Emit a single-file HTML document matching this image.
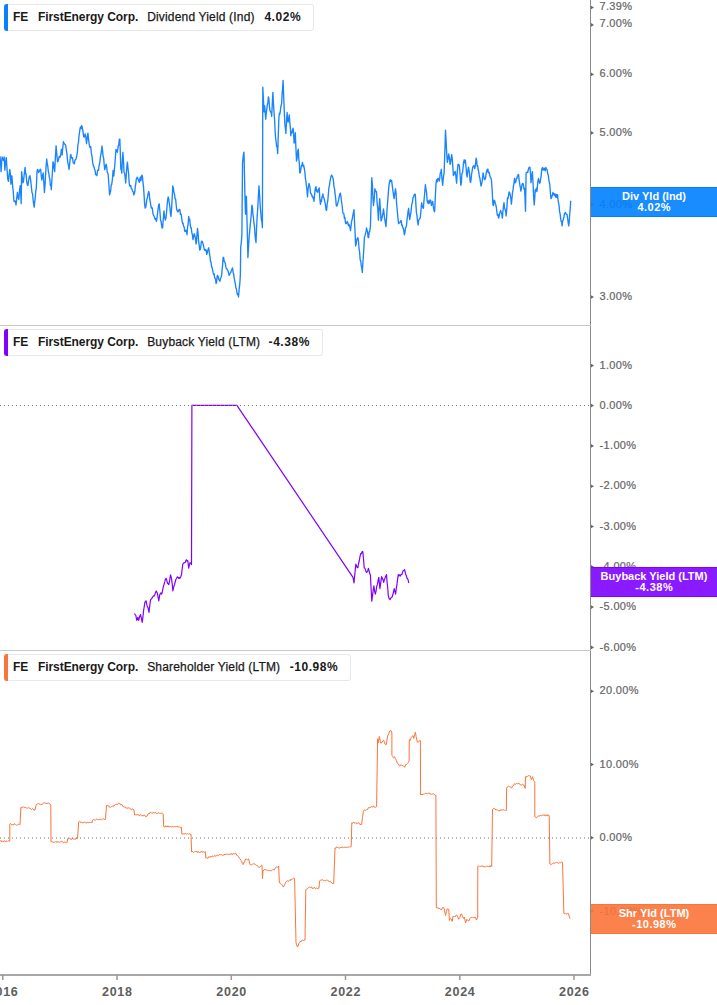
<!DOCTYPE html><html><head><meta charset="utf-8"><style>
html,body{margin:0;padding:0;background:#fff;}
body{width:717px;height:1005px;position:relative;overflow:hidden;font-family:"Liberation Sans",sans-serif;}
.t{position:absolute;white-space:nowrap;line-height:1;}
.yl{position:absolute;left:599.5px;font-size:11px;color:#666;white-space:nowrap;line-height:11px;letter-spacing:0.35px;-webkit-text-stroke:0.2px #666;}
.xl{position:absolute;top:986px;font-size:12.5px;font-weight:bold;color:#5e5e5e;white-space:nowrap;line-height:12px;width:60px;text-align:center;letter-spacing:0.7px;text-indent:0.7px;}
.leg{position:absolute;left:4px;height:25px;border:1px solid #e8e8e8;border-left:none;border-radius:0 3px 3px 0;background:#fff;}
.bar{position:absolute;left:4px;width:4px;border-radius:3px 0 0 3px;}
.lt{position:absolute;font-size:12px;color:#1a1a1a;white-space:nowrap;line-height:12px;letter-spacing:0.17px;-webkit-text-stroke:0.25px #1a1a1a;}
.lt.b{letter-spacing:-0.07px;-webkit-text-stroke:0;}
.lt.v{letter-spacing:0.55px;-webkit-text-stroke:0;}
.b{font-weight:bold;}
.l2{letter-spacing:0.5px;margin-right:-0.5px;}
.badge{position:absolute;left:591px;width:126px;height:28px;color:#fff;font-weight:bold;font-size:11px;line-height:10.5px;text-align:center;box-sizing:border-box;padding-top:3px;}

</style></head><body>
<svg width="717" height="1005" viewBox="0 0 717 1005" style="position:absolute;left:0;top:0"><rect x="590" y="0" width="1" height="976" fill="#8a8a8a"/><rect x="0" y="325" width="591" height="1" fill="#c8c8c8"/><rect x="0" y="650" width="591" height="1" fill="#c8c8c8"/><rect x="0" y="974" width="591" height="2" fill="#a8a8a8"/><rect x="2.05" y="975" width="1.5" height="5" fill="#999"/><rect x="116.25" y="975" width="1.5" height="5" fill="#999"/><rect x="230.55" y="975" width="1.5" height="5" fill="#999"/><rect x="344.75" y="975" width="1.5" height="5" fill="#999"/><rect x="459.05" y="975" width="1.5" height="5" fill="#999"/><rect x="573.25" y="975" width="1.5" height="5" fill="#999"/><path d="M591,5.7 L594,7.5 L591,9.3Z" fill="#666"/><path d="M591,23.1 L594,24.9 L591,26.7Z" fill="#666"/><path d="M591,72.6 L594,74.4 L591,76.2Z" fill="#666"/><path d="M591,131.1 L594,132.9 L591,134.7Z" fill="#666"/><path d="M591,202.7 L594,204.5 L591,206.3Z" fill="#666"/><path d="M591,295.2 L594,297.0 L591,298.8Z" fill="#666"/><path d="M591,363.8 L594,365.6 L591,367.4Z" fill="#666"/><path d="M591,403.8 L594,405.6 L591,407.4Z" fill="#666"/><path d="M591,444.1 L594,445.9 L591,447.7Z" fill="#666"/><path d="M591,484.4 L594,486.2 L591,488.0Z" fill="#666"/><path d="M591,524.7 L594,526.5 L591,528.3Z" fill="#666"/><path d="M591,565.0 L594,566.8 L591,568.6Z" fill="#666"/><path d="M591,605.3 L594,607.1 L591,608.9Z" fill="#666"/><path d="M591,645.6 L594,647.4 L591,649.2Z" fill="#666"/><path d="M591,689.4 L594,691.2 L591,693.0Z" fill="#666"/><path d="M591,762.7 L594,764.5 L591,766.3Z" fill="#666"/><path d="M591,836.0 L594,837.8 L591,839.6Z" fill="#666"/><path d="M591,909.3 L594,911.1 L591,912.9Z" fill="#666"/><path d="M0.0,156.3 L0.6,163.1 L1.1,171.6 L1.6,162.6 L2.1,157.0 L2.8,159.4 L3.5,160.4 L4.2,157.0 L4.9,170.2 L5.6,161.9 L6.3,157.7 L7.0,168.3 L7.7,178.6 L8.4,181.4 L9.1,174.8 L9.8,169.5 L10.4,174.7 L10.9,184.2 L11.4,180.0 L11.9,175.8 L12.6,185.6 L13.2,191.0 L13.9,200.9 L14.4,201.6 L14.9,200.9 L15.5,202.0 L16.0,205.0 L16.7,198.4 L17.4,192.5 L18.1,197.6 L18.8,199.5 L19.5,190.7 L20.2,185.6 L20.7,193.3 L21.2,203.7 L21.6,171.6 L22.3,177.8 L23.0,182.8 L23.5,181.1 L24.1,175.5 L24.6,170.8 L25.1,167.4 L25.6,173.9 L26.1,173.6 L26.7,181.7 L27.2,184.2 L27.9,185.6 L28.4,182.1 L28.9,179.0 L29.5,176.4 L30.0,175.8 L30.7,180.5 L31.4,187.0 L32.0,192.6 L32.5,193.5 L33.1,199.5 L33.6,203.8 L34.2,207.2 L34.7,201.9 L35.2,198.0 L35.8,190.9 L36.3,188.3 L37.0,171.6 L37.5,169.5 L38.0,170.2 L38.6,172.5 L39.1,171.6 L39.6,170.6 L40.2,169.3 L40.7,169.5 L41.2,175.2 L41.8,180.0 L42.5,176.3 L43.2,173.0 L43.8,181.8 L44.4,192.5 L45.0,185.5 L45.5,176.7 L46.1,166.1 L46.7,159.0 L47.2,162.9 L47.8,166.1 L48.3,171.3 L48.8,173.0 L49.3,177.4 L49.8,178.7 L50.3,185.3 L50.8,184.5 L51.3,189.7 L51.9,180.0 L52.4,172.3 L53.0,161.8 L53.6,163.4 L54.1,168.3 L54.7,171.6 L55.4,156.5 L56.1,145.8 L56.8,154.6 L57.5,161.8 L58.1,161.2 L58.7,158.5 L59.3,156.3 L60.0,157.4 L60.7,154.9 L61.4,149.3 L62.1,154.9 L62.8,147.4 L63.5,141.6 L64.0,143.4 L64.5,143.8 L65.1,144.6 L65.6,145.1 L66.2,149.1 L66.9,153.5 L67.4,159.1 L68.0,163.6 L68.5,165.4 L69.0,169.5 L69.7,163.7 L70.4,156.3 L70.9,154.5 L71.5,158.0 L72.0,158.1 L72.5,157.7 L73.2,162.8 L73.9,163.2 L74.4,163.7 L75.0,160.1 L75.5,159.5 L76.0,159.0 L76.7,156.3 L77.4,152.0 L77.9,144.9 L78.5,142.1 L79.0,135.9 L79.5,132.6 L80.0,129.0 L80.5,127.0 L81.1,128.6 L81.6,125.6 L82.1,126.6 L82.7,129.9 L83.2,133.4 L83.7,136.7 L84.4,137.1 L85.1,133.9 L85.8,136.8 L86.5,143.7 L87.2,138.2 L87.9,133.2 L88.6,139.4 L89.3,145.1 L90.0,147.6 L90.7,146.5 L91.3,152.9 L92.0,156.3 L92.7,162.9 L93.4,166.0 L94.0,166.6 L94.5,169.0 L95.1,170.4 L95.6,174.6 L96.2,174.4 L96.4,174.6 L96.9,175.7 L97.5,170.8 L98.0,169.9 L98.5,170.4 L99.2,165.0 L99.9,162.1 L100.4,156.8 L101.0,154.0 L101.5,150.5 L102.0,146.0 L102.5,150.1 L103.1,156.5 L103.7,158.5 L104.2,164.9 L104.8,169.7 L105.5,166.3 L106.2,164.2 L106.7,167.1 L107.2,171.6 L107.7,172.9 L108.2,174.6 L108.9,184.8 L109.6,194.9 L110.1,192.8 L110.7,190.5 L111.2,184.9 L111.7,184.4 L112.4,179.3 L113.1,170.4 L113.8,176.0 L114.3,170.7 L114.8,164.5 L115.4,157.6 L115.9,149.5 L116.6,150.4 L117.3,152.3 L117.8,149.2 L118.3,145.1 L118.8,145.0 L119.3,139.6 L119.8,139.1 L120.3,152.0 L120.8,169.0 L121.3,169.7 L121.8,173.2 L122.3,161.1 L122.9,152.3 L123.5,161.3 L124.0,171.8 L124.6,173.4 L125.1,176.9 L125.7,183.0 L126.3,174.4 L126.8,167.2 L127.4,162.1 L128.0,168.4 L128.6,173.8 L129.2,183.0 L129.7,186.2 L130.2,186.3 L130.8,185.5 L131.3,188.6 L131.8,188.7 L132.3,190.4 L132.8,191.7 L133.3,191.8 L133.8,194.9 L134.3,193.8 L134.8,191.7 L135.3,186.3 L135.8,183.6 L136.3,178.9 L136.8,178.1 L137.3,177.1 L137.9,179.1 L138.4,179.6 L138.9,181.6 L139.4,182.4 L139.9,178.4 L140.4,176.9 L140.9,180.6 L141.4,177.7 L141.9,175.1 L142.4,176.0 L143.0,182.6 L143.5,186.6 L144.1,195.4 L144.6,204.0 L145.2,208.1 L145.7,207.4 L146.2,204.1 L146.8,199.6 L147.3,198.3 L148.0,194.2 L148.7,191.4 L149.2,193.3 L149.8,199.7 L150.3,202.0 L150.8,205.3 L151.3,208.1 L151.8,207.4 L152.3,208.4 L152.8,212.6 L153.3,214.9 L153.9,215.8 L154.4,217.0 L154.9,218.5 L155.4,219.6 L155.9,218.6 L156.4,221.4 L157.0,218.0 L157.5,213.7 L158.1,208.6 L158.6,205.1 L159.2,203.9 L159.9,211.2 L160.6,220.7 L161.1,221.3 L161.6,225.1 L162.1,228.1 L162.6,227.6 L163.3,219.0 L164.0,210.9 L164.7,217.5 L165.4,220.0 L166.0,217.7 L166.5,212.9 L167.1,205.5 L167.6,200.2 L168.2,196.9 L168.8,199.5 L169.3,203.3 L169.9,207.2 L170.4,213.2 L171.0,216.5 L171.6,208.2 L172.2,197.7 L172.8,185.8 L173.4,188.5 L173.9,192.1 L174.5,194.2 L175.1,199.0 L175.6,198.9 L176.2,205.0 L176.7,209.5 L177.3,210.9 L177.8,211.9 L178.4,211.4 L178.9,209.7 L179.4,209.5 L179.9,209.7 L180.4,214.4 L181.0,213.9 L181.5,216.5 L182.0,220.4 L182.6,223.6 L183.1,223.3 L183.6,226.2 L184.2,227.1 L184.7,231.1 L185.3,231.5 L185.9,230.2 L186.4,231.4 L187.0,234.6 L187.6,226.9 L188.1,224.5 L188.7,216.5 L189.2,220.2 L189.7,219.2 L190.2,224.7 L190.7,227.7 L191.2,227.6 L191.8,232.4 L192.4,234.9 L193.0,239.6 L193.6,236.8 L194.2,233.6 L194.8,235.3 L195.4,238.2 L196.0,244.0 L196.5,241.1 L197.0,234.3 L197.5,228.4 L198.1,233.9 L198.6,241.3 L199.1,244.3 L199.7,250.0 L200.2,249.5 L200.8,247.1 L201.3,241.9 L201.9,241.0 L202.5,241.9 L203.1,244.2 L203.6,246.0 L204.2,249.3 L204.7,250.3 L205.2,249.4 L205.7,250.8 L206.2,250.0 L206.7,254.4 L207.2,253.0 L207.7,250.6 L208.2,249.3 L208.7,247.8 L209.4,253.1 L210.1,257.5 L210.6,261.9 L211.1,262.1 L211.6,267.0 L212.1,267.4 L212.6,270.1 L213.1,272.4 L213.6,274.4 L214.1,273.8 L214.6,277.7 L215.1,278.3 L215.6,279.4 L216.1,283.6 L216.6,282.3 L217.1,276.6 L217.6,275.4 L218.2,276.7 L218.8,279.4 L219.3,280.1 L219.9,281.3 L220.5,278.5 L221.0,277.5 L221.6,275.4 L222.1,269.7 L222.6,264.8 L223.1,257.5 L223.6,257.4 L224.2,261.3 L224.7,261.6 L225.3,263.5 L225.8,266.4 L226.4,268.8 L226.9,268.7 L227.5,270.1 L228.1,270.9 L228.6,273.4 L229.1,275.3 L229.6,274.6 L230.2,273.0 L230.8,272.5 L231.3,270.6 L231.9,269.3 L232.5,267.9 L233.1,272.2 L233.7,274.4 L234.2,278.1 L234.8,281.3 L235.3,283.4 L235.9,287.9 L236.4,289.0 L236.9,292.1 L237.4,294.6 L238.0,293.6 L238.5,297.0 L239.1,289.6 L239.8,283.7 L240.4,273.9 L240.7,247.0 L241.3,242.6 L241.9,235.0 L242.5,163.4 L243.0,157.9 L243.5,154.1 L244.0,152.2 L244.9,194.8 L245.5,214.2 L246.4,196.3 L246.9,216.4 L247.4,235.0 L247.9,257.5 L248.5,247.3 L249.1,237.5 L249.7,230.6 L250.2,225.1 L250.8,219.3 L251.3,213.5 L251.9,205.2 L252.4,207.5 L252.9,214.2 L253.4,217.2 L253.9,223.0 L254.4,225.6 L255.0,234.2 L255.5,239.7 L256.0,242.5 L256.6,227.8 L257.2,215.7 L257.8,207.9 L258.4,195.3 L259.0,185.8 L259.6,195.2 L260.3,207.1 L260.9,214.2 L261.4,220.3 L261.9,221.5 L262.4,227.6 L262.8,87.2 L263.4,99.2 L264.0,111.8 L264.7,105.8 L265.2,112.6 L265.7,119.3 L266.2,114.0 L266.8,108.9 L267.3,105.0 L267.9,102.4 L268.4,96.9 L268.9,99.1 L269.4,106.1 L269.9,110.3 L270.5,112.0 L271.1,112.0 L271.7,116.3 L272.3,103.5 L272.9,92.4 L273.4,102.7 L274.0,111.9 L274.6,119.4 L275.1,131.2 L275.6,138.0 L276.1,141.5 L276.7,146.9 L277.2,147.2 L277.7,153.6 L278.3,134.6 L278.9,117.8 L279.4,113.1 L279.9,114.1 L280.4,110.3 L281.0,105.8 L281.6,103.6 L282.1,94.1 L282.6,87.8 L283.1,80.4 L283.7,97.3 L284.3,111.8 L284.9,125.2 L285.4,128.1 L285.9,133.4 L286.5,121.3 L287.1,112.5 L287.6,119.4 L288.1,122.2 L288.7,118.8 L289.3,114.8 L289.8,122.7 L290.3,126.8 L290.8,135.7 L291.4,131.7 L292.0,132.9 L292.5,129.7 L293.1,128.2 L293.6,133.6 L294.1,143.1 L294.7,140.0 L295.3,132.7 L295.9,147.5 L296.5,161.0 L297.1,158.5 L297.7,151.1 L298.3,149.1 L298.8,158.8 L299.3,163.0 L299.8,173.0 L300.3,172.6 L300.9,168.6 L301.4,165.9 L302.0,164.9 L302.5,162.5 L303.1,166.5 L303.7,165.4 L304.3,168.5 L304.8,171.5 L305.4,178.1 L305.9,181.4 L306.4,185.6 L307.0,190.5 L307.5,196.9 L308.0,190.2 L308.5,186.5 L309.0,183.4 L309.5,185.1 L310.0,187.7 L310.5,192.5 L311.0,193.9 L311.5,194.1 L312.0,196.4 L312.5,196.1 L313.0,198.1 L313.5,197.8 L314.0,201.3 L314.7,193.4 L315.4,187.9 L316.0,186.7 L316.5,191.3 L317.1,191.5 L317.7,192.4 L318.2,189.4 L318.7,189.3 L319.2,187.9 L319.8,198.2 L320.4,204.3 L320.9,200.3 L321.4,201.7 L321.9,197.7 L322.4,196.0 L322.9,193.9 L323.4,197.7 L324.0,197.8 L324.6,200.6 L325.1,202.8 L325.6,206.2 L326.1,210.1 L326.6,210.3 L327.2,203.9 L327.8,200.7 L328.3,194.5 L328.9,187.9 L329.4,185.6 L330.0,181.5 L330.6,178.2 L331.1,176.0 L331.7,175.0 L332.2,176.4 L332.8,177.2 L333.4,180.4 L334.0,186.6 L334.6,189.4 L335.1,194.0 L335.7,198.7 L336.3,205.8 L336.9,206.0 L337.5,204.6 L338.0,202.2 L338.6,199.9 L339.2,196.6 L339.8,194.1 L340.4,193.1 L341.0,197.0 L341.6,202.6 L342.2,206.0 L342.8,212.5 L343.3,213.5 L343.9,213.8 L344.4,218.4 L344.9,217.4 L345.4,222.8 L345.9,223.7 L346.5,223.5 L347.1,221.5 L347.7,222.3 L348.4,225.6 L349.1,224.4 L349.8,226.6 L350.5,230.7 L351.0,226.5 L351.6,221.3 L352.1,219.6 L352.6,216.7 L353.3,213.1 L354.0,209.7 L354.5,221.8 L355.1,232.5 L355.6,246.0 L356.2,243.9 L356.8,239.4 L357.3,238.6 L357.9,237.6 L358.5,241.2 L359.0,248.3 L359.6,252.2 L360.2,260.0 L360.7,260.8 L361.2,265.3 L361.8,268.1 L362.3,272.5 L362.8,264.2 L363.4,255.2 L363.9,247.5 L364.4,237.6 L364.9,235.9 L365.4,233.8 L366.0,232.1 L366.5,227.9 L367.0,229.8 L367.6,231.9 L368.1,237.5 L368.6,237.6 L369.2,232.2 L369.8,231.3 L370.4,226.5 L371.1,202.8 L371.8,177.7 L372.4,184.8 L372.9,197.8 L373.5,205.5 L374.2,199.0 L374.9,188.8 L375.4,190.3 L376.0,191.8 L376.5,191.6 L377.1,202.6 L377.8,208.9 L378.4,220.2 L379.0,209.5 L379.7,198.6 L380.4,209.8 L381.1,220.9 L381.7,219.5 L382.3,216.4 L382.9,213.5 L383.5,209.0 L384.0,212.9 L384.5,217.9 L385.0,220.4 L385.5,223.9 L386.0,226.5 L386.6,217.4 L387.1,208.6 L387.7,201.3 L388.2,194.6 L388.8,187.4 L389.5,181.7 L390.2,179.7 L390.9,181.7 L391.6,180.4 L392.1,184.3 L392.6,188.3 L393.1,191.9 L393.6,195.8 L394.1,198.6 L394.8,193.6 L395.5,188.8 L396.1,193.4 L396.6,204.2 L397.2,209.7 L397.9,217.9 L398.6,223.7 L399.1,223.0 L399.6,222.5 L400.2,222.4 L400.7,220.9 L401.2,220.6 L401.8,225.5 L402.3,225.0 L402.8,227.9 L403.3,228.2 L403.9,231.4 L404.4,234.8 L404.9,233.1 L405.4,227.8 L405.9,227.6 L406.4,226.0 L406.9,220.9 L407.5,216.7 L408.0,211.9 L408.6,208.3 L409.1,213.8 L409.7,219.5 L410.2,216.6 L410.8,213.1 L411.3,208.6 L411.8,204.2 L412.4,202.6 L413.0,197.5 L413.6,197.2 L414.2,194.6 L414.7,194.2 L415.3,194.4 L415.9,204.6 L416.4,212.5 L417.0,215.7 L417.5,221.2 L418.1,225.0 L418.6,220.9 L419.1,219.4 L419.7,218.7 L420.2,218.1 L420.9,211.3 L421.6,202.8 L422.2,205.6 L422.8,207.3 L423.4,208.3 L423.9,201.4 L424.4,196.5 L424.9,190.4 L425.4,184.6 L425.9,189.0 L426.5,191.9 L427.1,200.1 L427.6,202.8 L428.2,200.7 L428.8,203.7 L429.4,202.8 L430.0,200.0 L430.7,200.4 L431.4,205.5 L432.0,203.3 L432.7,201.4 L433.3,206.4 L434.0,210.6 L434.6,211.8 L435.1,201.8 L435.6,191.2 L436.1,182.5 L436.7,179.7 L437.2,181.8 L437.8,178.3 L438.5,178.3 L439.2,181.1 L439.7,178.5 L440.2,173.5 L440.8,172.4 L441.3,169.3 L442.0,179.5 L442.7,185.3 L443.4,177.3 L444.1,172.8 L444.8,153.0 L445.5,130.2 L446.1,140.9 L446.7,153.5 L447.3,162.3 L448.0,159.1 L448.7,153.9 L449.4,157.9 L450.1,164.4 L450.6,163.0 L451.2,157.8 L451.7,154.6 L452.3,159.3 L452.8,166.2 L453.4,175.6 L454.0,174.2 L454.6,172.6 L455.2,171.4 L455.9,176.3 L456.6,183.2 L457.3,172.1 L458.0,164.4 L458.7,164.4 L459.4,165.8 L460.1,174.7 L460.8,185.3 L461.4,182.3 L461.9,173.7 L462.5,172.7 L463.0,168.5 L463.6,162.3 L464.2,159.8 L464.8,162.9 L465.4,160.2 L466.0,166.8 L466.5,173.3 L467.1,177.0 L467.8,171.1 L468.5,167.2 L469.0,170.4 L469.6,174.3 L470.1,181.1 L470.6,182.5 L471.1,179.1 L471.6,174.2 L472.2,170.7 L472.7,167.2 L473.2,166.5 L473.7,165.7 L474.2,166.3 L474.7,168.6 L475.4,165.0 L476.1,158.1 L476.6,160.0 L477.1,166.1 L477.7,165.8 L478.2,170.0 L478.8,172.1 L479.3,176.5 L479.9,178.1 L480.4,182.2 L481.0,186.0 L481.5,184.9 L482.1,181.2 L482.6,177.6 L483.1,172.8 L483.8,176.9 L484.5,179.7 L485.1,179.3 L485.7,177.0 L486.3,172.7 L486.9,170.0 L487.4,171.6 L487.9,169.0 L488.4,172.8 L488.9,172.0 L489.4,172.8 L489.9,176.1 L490.4,177.6 L491.0,178.0 L491.5,181.1 L492.2,190.8 L492.9,204.8 L493.5,205.5 L494.1,200.3 L494.7,200.7 L495.2,203.1 L495.8,204.9 L496.3,207.2 L496.9,211.8 L497.4,215.4 L498.0,214.5 L498.5,218.1 L499.0,216.9 L499.6,213.3 L500.1,212.6 L500.6,210.4 L501.2,212.5 L501.8,213.9 L502.4,218.1 L502.9,211.3 L503.5,206.4 L504.0,202.7 L504.5,208.0 L505.1,209.3 L505.6,211.3 L506.1,216.0 L506.8,208.9 L507.5,197.9 L508.0,198.9 L508.6,194.9 L509.1,192.0 L509.6,192.3 L510.2,194.8 L510.8,198.2 L511.4,204.1 L511.9,199.0 L512.4,193.5 L513.0,189.9 L513.5,185.7 L514.0,182.9 L514.5,178.3 L515.0,182.7 L515.7,182.5 L516.4,178.5 L516.9,178.7 L517.5,176.0 L518.0,175.0 L518.5,174.4 L519.2,180.1 L519.9,185.5 L520.4,187.7 L520.9,191.1 L521.5,187.8 L522.1,183.9 L522.7,183.4 L523.3,184.0 L523.9,188.9 L524.5,188.3 L525.0,198.0 L525.5,211.3 L526.1,173.0 L526.6,172.3 L527.2,172.2 L527.7,172.6 L528.2,170.2 L528.8,167.9 L529.4,167.2 L530.0,167.4 L530.5,173.8 L531.0,182.7 L531.7,176.7 L532.4,171.6 L533.0,182.5 L533.6,196.0 L534.2,205.0 L534.7,199.0 L535.2,189.7 L535.8,192.0 L536.4,188.3 L537.0,191.1 L537.7,182.6 L538.4,178.5 L539.0,180.9 L539.5,183.2 L540.1,182.7 L540.6,178.9 L541.2,175.8 L541.7,169.4 L542.2,168.1 L542.7,167.6 L543.2,170.1 L543.8,169.7 L544.3,168.1 L544.8,170.0 L545.3,170.7 L545.9,167.4 L546.4,168.8 L547.1,169.7 L547.8,174.4 L548.3,175.2 L548.8,179.4 L549.3,182.5 L549.8,184.1 L550.4,193.5 L551.0,198.7 L551.6,197.7 L552.3,195.3 L552.9,192.5 L553.4,194.6 L553.9,194.0 L554.4,195.3 L554.9,193.6 L555.4,196.7 L555.9,197.5 L556.5,194.4 L557.0,197.1 L557.5,194.6 L558.0,199.6 L558.5,202.4 L559.1,205.9 L559.6,212.0 L560.1,213.6 L560.6,218.2 L561.1,221.3 L561.6,221.3 L562.1,225.9 L562.7,220.7 L563.3,219.8 L563.9,216.9 L564.5,213.4 L565.0,213.0 L565.5,212.4 L566.1,214.4 L566.6,214.1 L567.1,214.7 L567.7,219.0 L568.2,222.8 L568.7,225.9 L569.2,221.8 L569.7,214.0 L570.2,208.9 L570.7,200.8" fill="none" stroke="#1a84ff" stroke-width="1.35" stroke-linejoin="round"/><path d="M134.3,613.5 L135.1,614.5 L135.8,615.5 L136.8,620.3 L137.8,617.4 L138.7,620.3 L139.3,617.8 L139.9,615.9 L140.5,614.5 L141.2,617.4 L142.2,622.3 L142.9,617.3 L143.6,610.5 L144.2,607.0 L144.8,602.7 L145.4,601.4 L146.1,600.8 L147.0,605.7 L148.0,607.6 L149.0,612.5 L149.8,605.2 L150.5,599.8 L151.4,598.8 L152.1,597.8 L152.7,597.2 L153.4,595.9 L154.4,595.9 L155.0,594.1 L155.7,592.1 L156.3,591.0 L157.3,593.0 L158.1,597.2 L158.8,600.8 L159.7,594.9 L160.7,593.0 L161.7,594.0 L162.4,591.4 L163.2,587.1 L164.1,584.2 L164.8,581.7 L165.4,579.3 L166.1,578.3 L166.8,580.4 L167.5,583.2 L168.2,583.8 L168.8,584.7 L169.7,580.2 L170.5,574.9 L171.5,578.3 L172.2,584.0 L172.9,591.0 L173.9,586.1 L174.6,584.4 L175.2,582.0 L175.9,579.3 L176.5,578.5 L177.2,577.1 L177.8,576.9 L178.5,578.3 L179.1,577.5 L179.8,578.3 L180.7,577.0 L181.5,574.4 L182.7,564.6 L183.3,563.4 L184.0,562.8 L184.6,562.7 L185.3,562.3 L185.9,560.4 L186.6,559.8 L187.2,561.2 L187.8,560.7 L188.7,568.1 L189.3,565.4 L190.0,562.7 L190.8,563.0 L191.5,564.6 L191.9,405.3 L236.9,405.3 L353.0,577.4 L354.0,583.0 L354.6,576.2 L355.2,570.3 L355.8,564.2 L356.5,565.7 L357.2,567.4 L357.9,567.7 L358.6,563.5 L359.3,560.5 L360.0,556.6 L360.7,553.7 L361.4,553.9 L362.1,551.6 L362.8,551.6 L363.5,558.8 L364.2,567.7 L365.0,568.4 L365.7,570.7 L366.5,572.5 L367.1,571.9 L367.8,570.5 L368.4,568.4 L369.1,570.9 L369.7,573.5 L370.4,574.6 L371.1,588.7 L371.8,601.1 L372.5,595.7 L373.2,590.3 L373.9,585.8 L374.6,590.9 L375.3,594.2 L376.0,591.3 L376.7,586.5 L377.4,584.4 L378.1,580.5 L378.8,577.4 L379.9,588.6 L380.8,582.4 L381.6,576.7 L382.3,578.2 L383.0,579.8 L383.7,582.3 L384.4,579.4 L385.1,578.0 L385.8,576.2 L386.5,574.6 L387.1,582.5 L387.7,587.8 L388.3,595.6 L389.1,598.6 L390.0,599.7 L390.7,598.2 L391.4,597.6 L392.1,597.0 L392.8,594.8 L393.5,592.0 L394.2,588.6 L394.9,591.3 L395.6,594.2 L396.3,588.4 L397.0,584.3 L397.6,579.2 L398.3,574.6 L399.0,575.9 L399.7,574.9 L400.4,576.0 L401.1,574.6 L401.8,574.5 L402.5,572.5 L403.2,570.6 L403.9,570.5 L404.6,569.7 L405.5,573.5 L406.4,576.0 L407.0,578.3 L407.6,578.6 L408.2,580.3 L408.8,583.0" fill="none" stroke="#8000ff" stroke-width="1.2" stroke-linejoin="round"/><path d="M0.0,841.2 L0.7,840.5 L1.4,841.9 L2.1,840.8 L2.8,841.6 L3.5,841.8 L4.2,840.9 L4.9,840.8 L5.6,841.9 L6.3,841.4 L7.0,840.8 L7.7,841.5 L8.4,840.9 L9.1,840.8 L9.8,841.2 L9.8,824.2 L10.5,823.4 L11.3,824.7 L12.0,825.0 L12.7,824.6 L13.4,825.1 L14.2,823.7 L14.9,824.0 L15.6,824.4 L16.4,825.3 L17.1,825.3 L17.8,824.4 L18.5,824.2 L19.3,824.6 L20.0,824.7 L20.9,807.4 L21.7,807.3 L22.5,807.9 L23.4,806.7 L24.2,807.6 L25.0,807.0 L25.7,807.6 L26.4,808.0 L27.1,808.1 L27.9,808.1 L28.6,807.8 L29.3,808.1 L30.0,808.4 L30.7,808.8 L31.5,809.5 L32.4,808.6 L33.2,809.0 L34.1,810.2 L34.9,810.0 L36.3,804.6 L37.0,804.1 L37.8,803.7 L38.5,803.5 L39.3,804.3 L40.0,803.8 L40.8,804.7 L41.5,804.5 L42.3,804.5 L43.0,803.3 L43.8,802.9 L44.5,802.8 L45.3,803.3 L46.0,803.2 L46.9,803.5 L47.9,803.1 L48.8,803.2 L49.8,803.8 L50.8,805.2 L51.0,841.7 L51.7,841.6 L52.5,841.9 L53.2,842.1 L53.9,842.2 L54.6,842.4 L55.4,842.1 L56.1,841.3 L56.8,842.5 L57.5,841.6 L58.3,842.1 L59.0,841.8 L59.7,842.4 L60.5,841.6 L61.2,841.7 L61.9,841.7 L62.6,841.6 L63.4,842.8 L64.1,842.3 L64.8,841.9 L65.5,842.1 L66.3,843.1 L67.0,842.3 L67.8,838.7 L68.5,838.7 L69.3,838.3 L70.0,839.2 L70.8,838.9 L71.5,839.5 L72.3,838.1 L73.0,838.7 L73.8,839.2 L74.5,839.2 L75.3,839.4 L76.0,838.0 L76.8,838.4 L77.5,838.7 L78.7,821.9 L79.4,821.3 L80.2,821.5 L80.9,822.8 L81.7,822.2 L82.4,822.8 L83.1,822.0 L83.9,822.8 L84.6,822.2 L85.3,822.0 L86.1,822.8 L86.8,823.2 L87.6,821.9 L88.3,822.7 L89.0,822.8 L89.8,822.2 L90.5,822.5 L91.3,822.2 L92.0,822.8 L92.6,820.0 L93.3,819.5 L94.0,819.5 L94.7,820.1 L95.4,820.1 L96.2,819.4 L96.9,819.0 L97.6,819.5 L98.3,820.0 L99.0,819.2 L99.7,819.4 L100.4,819.2 L101.1,820.1 L101.8,819.6 L102.6,818.8 L103.3,818.9 L104.0,819.3 L104.7,819.5 L105.4,819.4 L106.6,805.2 L107.3,805.9 L108.0,805.4 L108.8,806.0 L109.5,807.3 L110.2,807.4 L111.0,806.9 L111.7,806.3 L112.5,805.9 L113.2,806.6 L114.0,805.2 L114.7,805.2 L115.5,804.5 L116.2,804.2 L117.0,804.5 L117.7,804.4 L118.5,803.2 L119.2,803.4 L119.9,803.6 L120.6,805.0 L121.3,804.6 L122.0,804.7 L122.7,806.0 L123.4,807.0 L124.1,806.5 L124.8,807.5 L125.6,807.2 L126.3,808.3 L127.0,808.0 L127.8,808.1 L128.5,807.8 L129.3,807.8 L130.1,808.8 L130.8,809.2 L131.6,809.8 L132.4,808.7 L133.1,809.7 L133.9,809.7 L134.7,815.0 L135.5,814.8 L136.2,815.0 L137.0,814.5 L137.7,814.7 L138.5,815.1 L139.3,815.8 L140.0,814.5 L140.8,815.1 L141.5,815.7 L142.3,815.2 L143.1,816.2 L143.9,815.2 L144.8,815.3 L145.6,816.8 L146.4,816.3 L147.1,816.3 L147.8,814.7 L148.6,813.2 L149.3,813.9 L150.0,812.4 L150.7,812.3 L151.5,813.2 L152.2,812.8 L152.9,813.2 L153.7,812.2 L154.4,813.3 L155.1,812.5 L155.9,812.9 L156.6,813.7 L157.3,813.7 L158.1,812.7 L158.8,812.9 L159.5,813.3 L160.3,813.5 L161.0,813.4 L161.7,813.0 L162.5,813.3 L163.2,813.8 L163.7,826.4 L164.4,826.8 L165.1,827.1 L165.8,825.7 L166.5,826.6 L167.2,826.9 L167.9,825.8 L168.6,827.1 L169.3,826.0 L170.0,826.8 L170.7,826.7 L171.4,826.9 L172.1,826.4 L172.9,826.6 L173.6,826.9 L174.3,826.6 L175.0,827.0 L175.7,826.7 L176.4,826.7 L177.1,826.1 L177.8,827.1 L178.5,826.9 L179.2,826.5 L179.9,827.4 L180.6,827.4 L181.3,827.0 L181.9,834.2 L182.7,834.1 L183.4,833.7 L184.2,834.2 L184.9,833.6 L185.7,833.6 L186.4,834.1 L187.2,833.5 L188.0,834.1 L188.7,834.2 L189.5,833.5 L190.2,834.4 L191.0,834.2 L191.6,852.0 L192.3,851.3 L193.0,852.3 L193.8,852.4 L194.5,851.9 L195.2,851.2 L195.9,851.8 L196.6,851.6 L197.4,852.5 L198.1,851.2 L198.8,852.3 L199.5,852.5 L200.3,852.1 L201.0,852.2 L201.7,851.1 L202.4,852.4 L203.1,851.6 L203.9,852.3 L204.6,852.2 L205.3,851.5 L205.9,858.2 L206.6,857.5 L207.3,858.2 L208.0,858.3 L208.7,856.7 L209.5,856.9 L210.2,857.3 L210.9,856.2 L211.6,857.1 L212.3,856.3 L213.0,855.8 L213.8,856.6 L214.5,855.4 L215.3,855.9 L216.0,856.4 L216.8,855.2 L217.5,855.2 L218.3,855.4 L219.0,855.0 L219.8,854.5 L220.5,854.6 L221.3,854.5 L222.0,854.9 L222.7,855.5 L223.4,855.0 L224.1,855.3 L224.8,854.1 L225.5,855.0 L226.2,853.9 L226.9,854.5 L227.6,854.6 L228.3,854.0 L229.0,854.8 L229.7,854.2 L230.4,854.2 L231.1,854.6 L231.8,853.3 L232.5,854.6 L233.2,854.0 L233.9,853.5 L234.6,854.1 L235.3,853.2 L236.0,853.5 L236.8,855.4 L237.7,855.8 L238.5,856.6 L239.4,858.3 L240.2,859.0 L240.9,860.3 L241.6,861.3 L242.3,863.6 L243.0,864.6 L243.7,862.5 L244.4,862.3 L245.1,860.0 L245.8,859.0 L246.7,859.2 L247.7,859.8 L248.6,859.0 L250.0,864.6 L250.8,864.7 L251.6,864.9 L252.4,864.3 L253.2,863.8 L254.0,863.9 L254.8,864.0 L255.6,864.6 L256.4,865.3 L257.2,865.6 L258.1,866.3 L258.9,867.5 L259.7,867.4 L260.5,866.1 L261.2,865.5 L262.0,865.2 L262.5,878.6 L263.0,870.2 L263.7,870.5 L264.4,869.5 L265.2,869.6 L265.9,870.2 L266.6,869.8 L267.3,870.3 L268.0,870.1 L268.7,870.8 L269.5,870.8 L270.2,870.3 L270.9,870.8 L271.6,870.7 L272.3,870.2 L273.0,869.4 L273.7,869.7 L274.4,869.9 L275.1,868.2 L275.8,867.6 L276.6,866.9 L277.3,867.3 L278.0,867.1 L278.7,866.0 L279.3,882.0 L280.1,883.5 L280.9,883.8 L281.8,884.6 L282.6,885.2 L283.4,887.0 L284.1,885.8 L284.8,884.3 L285.5,882.6 L286.2,881.4 L286.9,881.4 L287.6,880.8 L288.3,881.4 L289.0,880.8 L289.7,879.8 L290.4,880.6 L291.1,879.0 L291.8,879.6 L292.5,879.1 L293.2,878.6 L293.9,878.1 L294.6,878.6 L296.0,942.7 L297.4,947.0 L298.1,946.0 L298.8,943.4 L299.5,942.8 L300.2,941.3 L301.0,941.8 L301.8,940.3 L302.6,940.2 L303.4,940.6 L304.2,940.2 L305.0,940.0 L305.8,889.7 L306.7,889.2 L307.6,888.7 L308.5,887.5 L309.2,887.0 L310.0,887.3 L310.7,887.4 L311.5,887.0 L312.2,888.4 L313.0,888.3 L313.7,888.2 L314.4,887.2 L315.2,888.6 L315.9,888.5 L316.7,888.1 L317.4,888.6 L318.2,888.2 L318.9,888.3 L319.7,880.8 L320.4,880.3 L321.1,880.0 L321.8,880.1 L322.5,879.7 L323.2,880.1 L323.9,880.7 L324.6,880.6 L325.3,880.7 L326.0,880.4 L326.7,880.0 L327.4,880.0 L328.1,880.8 L328.8,881.0 L329.5,881.9 L330.2,881.8 L330.9,881.8 L331.6,882.7 L332.3,883.6 L333.0,882.8 L333.7,883.6 L335.0,847.9 L335.7,848.4 L336.4,847.0 L337.1,847.3 L337.8,847.2 L338.5,848.0 L339.2,848.2 L339.9,847.9 L340.6,847.1 L341.3,848.0 L342.0,847.0 L342.7,846.8 L343.5,847.8 L344.2,847.3 L344.9,847.4 L345.6,847.3 L346.3,847.7 L347.0,846.8 L347.7,847.3 L348.4,847.1 L349.1,847.3 L349.8,846.5 L350.5,846.9 L351.2,846.5 L351.8,822.8 L352.6,823.0 L353.4,822.6 L354.2,822.6 L355.0,823.3 L355.8,822.5 L356.6,823.9 L357.4,823.3 L358.1,822.9 L358.8,823.0 L359.5,823.3 L360.2,824.9 L360.9,824.1 L361.6,824.6 L362.5,817.4 L363.4,811.4 L364.1,810.2 L364.9,809.8 L365.6,810.4 L366.3,809.8 L367.0,809.5 L367.8,809.1 L368.5,807.6 L369.2,808.0 L369.9,807.2 L370.7,807.5 L371.4,806.5 L372.1,807.0 L372.9,807.1 L373.6,805.8 L374.4,807.1 L375.1,807.2 L375.9,807.2 L376.6,806.5 L377.6,738.8 L378.1,743.1 L379.4,736.5 L380.6,743.1 L381.8,742.7 L382.8,740.9 L383.7,740.4 L384.9,743.9 L386.2,744.7 L387.6,736.1 L388.8,733.7 L389.6,731.0 L391.1,730.6 L391.9,733.0 L391.9,755.6 L392.7,756.3 L393.5,757.9 L394.7,756.8 L395.4,758.7 L396.4,760.4 L397.4,763.4 L398.4,763.9 L399.3,765.8 L400.1,765.8 L400.9,764.6 L401.7,765.5 L402.5,765.6 L403.3,765.8 L404.7,767.3 L405.6,764.6 L406.6,764.5 L407.5,763.4 L408.3,762.5 L409.1,761.1 L409.3,739.6 L410.3,740.4 L411.1,737.6 L412.1,736.3 L413.0,735.7 L413.8,738.4 L414.6,734.7 L415.4,732.2 L416.1,736.4 L417.3,741.9 L418.2,742.3 L419.7,740.4 L420.4,740.7 L420.6,795.0 L421.4,794.2 L422.1,795.1 L422.9,794.0 L423.6,794.1 L424.4,794.1 L425.1,793.3 L425.9,793.5 L426.6,793.3 L427.4,793.9 L428.1,793.2 L428.9,793.2 L429.6,793.1 L430.3,794.3 L431.0,793.7 L431.7,794.5 L432.4,794.3 L433.1,793.5 L433.8,794.3 L434.5,794.5 L435.2,795.3 L435.9,795.0 L436.3,907.6 L437.1,907.6 L438.0,908.0 L439.0,908.5 L440.0,908.4 L441.3,910.1 L442.1,908.7 L443.0,907.1 L444.2,908.8 L445.5,915.5 L446.4,911.7 L447.2,908.8 L448.0,909.6 L448.8,909.2 L449.4,920.5 L450.5,918.4 L451.4,919.2 L452.2,921.4 L453.0,916.3 L453.7,917.0 L454.4,916.1 L455.1,916.8 L456.0,915.2 L456.8,915.1 L457.6,916.7 L458.5,919.3 L459.2,918.3 L459.9,917.3 L460.7,914.4 L461.4,913.8 L462.1,915.3 L462.8,916.9 L463.5,918.4 L464.3,917.2 L465.6,923.0 L466.8,919.3 L467.9,920.6 L468.9,920.9 L469.8,918.7 L470.6,917.6 L471.3,917.5 L472.1,917.3 L472.8,918.0 L473.5,917.4 L474.2,917.1 L474.9,918.2 L475.6,917.6 L476.4,920.1 L477.7,917.2 L477.8,866.4 L478.5,866.1 L479.3,865.9 L480.0,866.7 L480.7,866.4 L481.5,865.8 L482.2,866.6 L482.9,865.7 L483.7,866.9 L484.4,866.7 L485.1,866.9 L485.8,866.6 L486.6,866.2 L487.3,866.2 L488.0,866.2 L488.8,867.0 L489.5,865.7 L490.2,867.0 L491.0,865.6 L491.7,866.4 L492.5,809.3 L493.4,808.5 L494.2,808.7 L495.0,808.7 L495.9,810.1 L496.7,809.8 L497.6,810.0 L498.4,810.6 L499.2,811.1 L500.0,809.9 L500.9,810.1 L501.7,810.0 L502.4,809.9 L503.1,810.1 L503.8,809.5 L504.6,810.3 L505.5,810.5 L506.3,810.6 L506.6,788.0 L507.5,786.8 L508.4,786.1 L509.7,786.8 L510.6,787.1 L511.6,788.0 L512.5,786.0 L513.4,785.7 L514.3,783.8 L515.1,784.1 L516.0,784.2 L516.8,783.3 L517.6,783.8 L518.9,783.4 L519.6,783.8 L520.3,784.8 L521.0,784.9 L521.7,785.0 L522.5,784.3 L523.2,784.8 L523.9,784.9 L525.2,788.4 L525.6,776.7 L526.3,777.2 L527.0,776.0 L527.7,776.3 L528.5,775.7 L529.4,775.7 L530.2,775.9 L531.4,779.6 L532.7,776.7 L533.5,780.5 L534.8,781.7 L534.8,816.9 L535.5,817.4 L536.2,817.7 L536.9,817.3 L537.7,816.3 L538.6,815.9 L539.4,816.0 L540.1,815.5 L540.8,815.5 L541.5,815.6 L542.2,814.9 L542.9,815.1 L543.6,815.2 L544.3,814.7 L545.0,816.0 L545.7,815.7 L546.4,814.7 L547.1,816.1 L547.8,814.8 L548.5,815.3 L549.2,815.5 L549.9,864.0 L550.6,864.7 L551.3,864.3 L552.0,864.1 L552.7,863.5 L553.4,863.0 L554.1,863.7 L554.8,862.7 L555.5,862.8 L556.2,863.0 L556.9,862.3 L557.6,862.8 L558.3,863.3 L559.0,863.1 L559.7,862.7 L560.4,862.8 L561.1,862.4 L561.8,861.8 L562.5,862.3 L563.9,913.5 L564.6,913.7 L565.4,913.3 L566.1,913.9 L566.9,914.2 L567.6,913.4 L568.4,913.5 L569.2,916.2 L570.1,918.7" fill="none" stroke="#fb7439" stroke-width="1.0" stroke-linejoin="round"/><line x1="0" y1="405.5" x2="590" y2="405.5" stroke="#777" stroke-width="1" stroke-dasharray="1 3"/><line x1="0" y1="838" x2="590" y2="838" stroke="#777" stroke-width="1" stroke-dasharray="1 3"/></svg>
<div class="yl" style="top:1px">7.39%</div>
<div class="yl" style="top:18px">7.00%</div>
<div class="yl" style="top:68px">6.00%</div>
<div class="yl" style="top:127px">5.00%</div>
<div class="yl" style="top:199px">4.00%</div>
<div class="yl" style="top:291px">3.00%</div>
<div class="yl" style="top:360px">1.00%</div>
<div class="yl" style="top:400px">0.00%</div>
<div class="yl" style="top:440px">-1.00%</div>
<div class="yl" style="top:480px">-2.00%</div>
<div class="yl" style="top:521px">-3.00%</div>
<div class="yl" style="top:561px">-4.00%</div>
<div class="yl" style="top:601px">-5.00%</div>
<div class="yl" style="top:642px">-6.00%</div>
<div class="yl" style="top:685px">20.00%</div>
<div class="yl" style="top:759px">10.00%</div>
<div class="yl" style="top:832px">0.00%</div>
<div class="yl" style="top:906px">-10.00%</div>
<div class="xl" style="left:-27.2px">2016</div>
<div class="xl" style="left:87.0px">2018</div>
<div class="xl" style="left:201.3px">2020</div>
<div class="xl" style="left:315.5px">2022</div>
<div class="xl" style="left:429.8px">2024</div>
<div class="xl" style="left:544.0px">2026</div>
<div class="leg" style="top:4px;width:309px"></div><div class="bar" style="top:4px;height:27px;background:#0a80ff"></div>
<div class="leg" style="top:329px;width:318px"></div><div class="bar" style="top:329px;height:27px;background:#8000ff"></div>
<div class="leg" style="top:654px;width:346px"></div><div class="bar" style="top:654px;height:27px;background:#fb7439"></div>
<div class="lt b" style="left:13px;top:11px">FE</div><div class="lt b" style="left:38px;top:11px">FirstEnergy Corp.</div><div class="lt" style="left:147.2px;top:11px">Dividend Yield (Ind)</div><div class="lt b v" style="left:264.4px;top:11px">4.02%</div>
<div class="lt b" style="left:13px;top:336px">FE</div><div class="lt b" style="left:38px;top:336px">FirstEnergy Corp.</div><div class="lt" style="left:147.2px;top:336px">Buyback Yield (LTM)</div><div class="lt b v" style="left:268.6px;top:336px">-4.38%</div>
<div class="lt b" style="left:13px;top:661px">FE</div><div class="lt b" style="left:38px;top:661px">FirstEnergy Corp.</div><div class="lt" style="left:147.2px;top:661px">Shareholder Yield (LTM)</div><div class="lt b v" style="left:289.7px;top:661px">-10.98%</div>
<div class="badge" style="top:187px;background:rgba(0,128,255,0.9);border-top:1px solid #0080ff;border-bottom:1px solid #0080ff;height:30px">Div Yld (Ind)<br><span class="l2">4.02%</span></div>
<div class="badge" style="top:567px;background:#8a1aff;border-top:1px solid #8000ff;border-bottom:1px solid #8000ff;height:30px">Buyback Yield (LTM)<br><span class="l2">-4.38%</span></div>
<div class="badge" style="top:904px;background:rgba(251,116,57,0.9);border-top:1px solid #fb7439;border-bottom:1px solid #fb7439;height:30px">Shr Yld (LTM)<br><span class="l2">-10.98%</span></div>
</body></html>
